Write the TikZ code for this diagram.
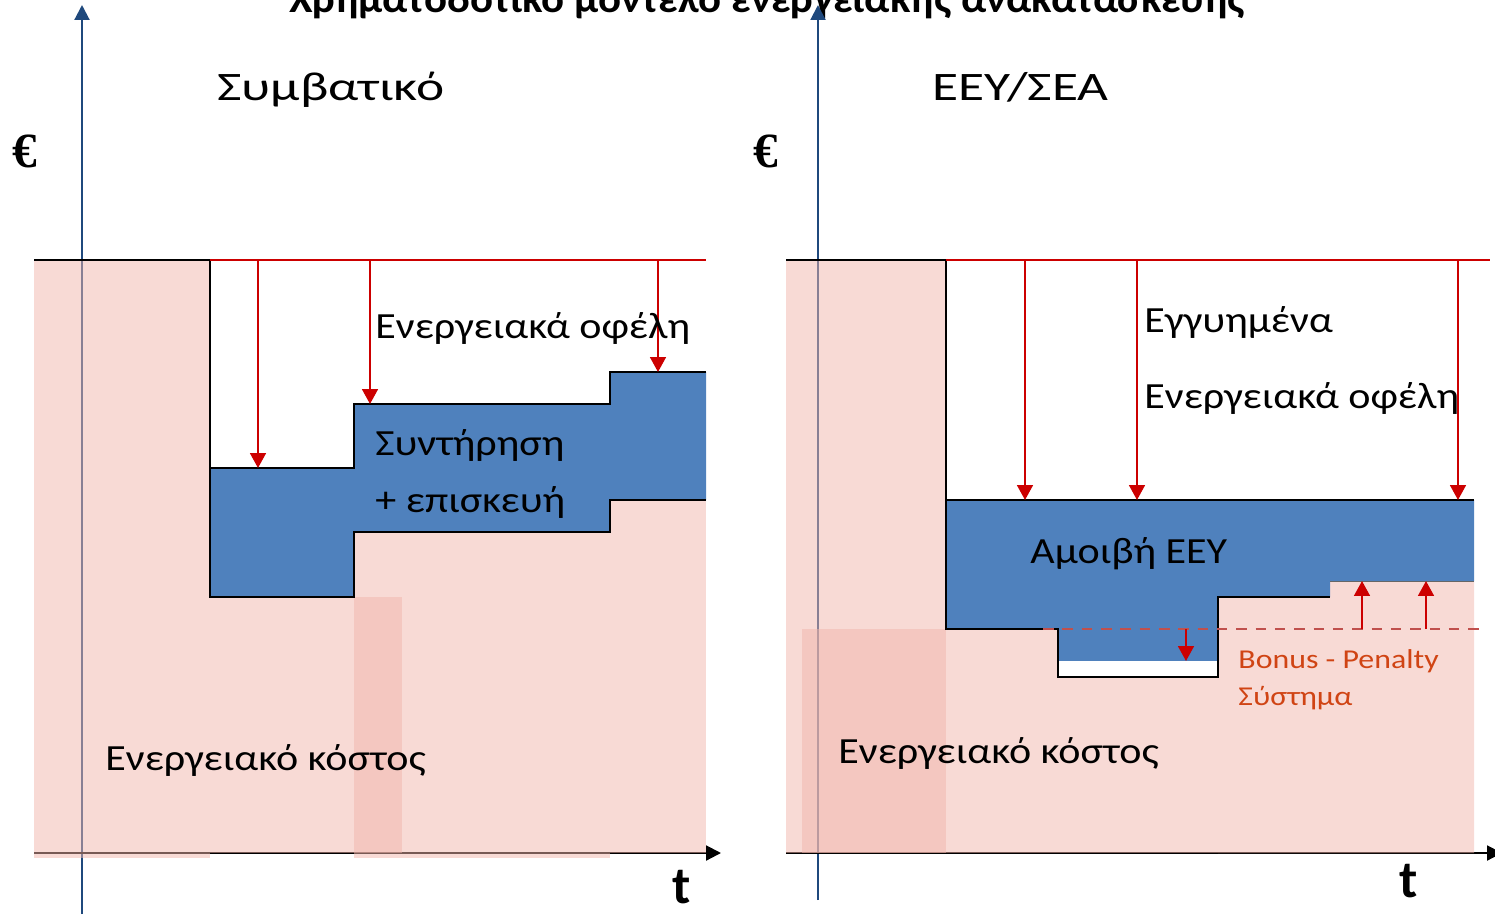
\documentclass[tikz,border=0pt]{standalone}
\usepackage{fontspec}
\setmainfont{Carlito}
\newfontfamily\eurofont{Liberation Serif}
\usetikzlibrary{arrows.meta}

\definecolor{costpink}{RGB}{241,181,171}
\definecolor{feeblue}{RGB}{79,129,189}
\definecolor{axisblue}{RGB}{31,73,125}
\definecolor{gainred}{RGB}{204,0,0}
\definecolor{dashred}{RGB}{192,80,77}
\definecolor{bonusred}{RGB}{208,68,20}

\tikzset{
  lbl/.style={anchor=base west,inner sep=0pt,xscale=1.14,font=\fontsize{21}{25}\selectfont},
  headlbl/.style={anchor=base west,inner sep=0pt,xscale=1.32,font=\fontsize{23}{27}\selectfont},
  bplbl/.style={anchor=base west,inner sep=0pt,xscale=1.17,bonusred,font=\fontsize{15.5}{18}\selectfont},
  eurolbl/.style={anchor=base west,inner sep=0pt,font=\fontsize{28}{32}\selectfont\eurofont\bfseries},
  tlbl/.style={anchor=base,inner sep=0pt,font=\fontsize{30}{34}\selectfont\bfseries},
  cost/.style={fill=costpink,fill opacity=0.5},
  edge/.style={line width=1.5pt,line join=miter},
  gain/.style={gainred,line width=1.2pt,-{Triangle[length=8.5pt,width=9pt]}},
  yaxis/.style={axisblue,line width=1.2pt,-{Triangle[length=8.5pt,width=8.5pt]}},
  xaxis/.style={black,line width=1.2pt,-{Triangle[length=8.5pt,width=8.5pt]}}
}

\begin{document}
\begin{tikzpicture}[x=0.02cm,y=-0.02cm]
\useasboundingbox (0,0) rectangle (1495,914);
%title
\node[anchor=base,inner sep=0pt,xscale=1.06,font=\fontsize{23}{27}\selectfont\bfseries] (title) at (767,12) {Χρηματοδοτικό μοντέλο ενεργειακής ανακατασκευής};

%axes
\draw[yaxis] (82,914) -- (82,5);
\draw[xaxis] (34,853) -- (721,853);
\draw[yaxis] (818,900) -- (818,5);
\draw[xaxis] (786,853) -- (1502,853);

%left: energy cost
\fill[cost] (34,260) rectangle (210,858);
\fill[cost] (210,597) rectangle (402,853);
\fill[cost] (354,532) rectangle (610,858);
\fill[cost] (610,500) rectangle (706,853);
%left: maintenance + repair
\fill[feeblue] (210,468) -- (354,468) -- (354,404) -- (610,404) -- (610,372) -- (706,372) -- (706,500) -- (610,500) -- (610,532) -- (354,532) -- (354,597) -- (210,597) -- cycle;
\draw[edge] (34,260) -- (210,260) -- (210,597) -- (354,597) -- (354,532) -- (610,532) -- (610,500) -- (706,500);
\draw[edge] (210,468) -- (354,468) -- (354,404) -- (610,404) -- (610,372) -- (706,372);
%left: savings
\draw[gainred,line width=1.1pt] (210,260) -- (706,260);
\draw[gain] (258,260) -- (258,468);
\draw[gain] (370,260) -- (370,404);
\draw[gain] (658,260) -- (658,372);

%right: energy cost
\fill[cost] (786,260) rectangle (946,853);
\fill[cost] (802,629) rectangle (1058,853);
\fill[cost] (1058,677) rectangle (1218,853);
\fill[cost] (1218,597) -- (1330,597) -- (1330,581) -- (1474,581) -- (1474,853) -- (1218,853) -- cycle;
%right: ESCO fee
\fill[feeblue] (946,500) -- (1474,500) -- (1474,581) -- (1330,581) -- (1330,597) -- (1218,597) -- (1218,661) -- (1058,661) -- (1058,629) -- (946,629) -- cycle;
\fill[white] (1058,661) rectangle (1218,677);
\draw[edge] (786,260) -- (946,260) -- (946,629) -- (1058,629) -- (1058,677) -- (1218,677) -- (1218,597) -- (1330,597);
\draw[edge] (946,500) -- (1474,500);
\draw[black!60,thin] (1330,581) -- (1474,581);
%right: guaranteed savings
\draw[gainred,line width=1.1pt] (946,260) -- (1490,260);
\draw[gain] (1025,260) -- (1025,500);
\draw[gain] (1137,260) -- (1137,500);
\draw[gain] (1458,260) -- (1458,500);
%bonus - penalty
\draw[dashred,line width=1.2pt,dash pattern=on 6pt off 5pt] (1043,629) -- (1482,629);
\draw[gain] (1186,629) -- (1186,661);
\draw[gain] (1362,629) -- (1362,581);
\draw[gain] (1426,629) -- (1426,581);

%labels
\node[headlbl] (conv) at (217,100) {Συμβατικό};
\node[headlbl] (esco) at (932,100) {ΕΕΥ/ΣΕΑ};
\node[eurolbl] (euroL) at (12,167) {€};
\node[eurolbl] (euroR) at (753,167) {€};
\node[lbl] (gainL) at (375,338) {Ενεργειακά οφέλη};
\node[lbl] (maint) at (375,455) {Συντήρηση};
\node[lbl] (repair) at (375,512) {+ επισκευή};
\node[lbl] (costL) at (105,770) {Ενεργειακό κόστος};
\node[tlbl] (tL) at (682,903) {t};
\node[lbl] (guar) at (1144,332) {Εγγυημένα};
\node[lbl] (gainR) at (1144,408) {Ενεργειακά οφέλη};
\node[lbl] (fee) at (1030,563) {Αμοιβή ΕΕΥ};
\node[bplbl] (bonus) at (1238,668) {Bonus - Penalty};
\node[bplbl] (system) at (1238,705) {Σύστημα};
\node[lbl] (costR) at (838,763) {Ενεργειακό κόστος};
\node[tlbl] (tR) at (1409,897) {t};
\end{tikzpicture}
\end{document}
